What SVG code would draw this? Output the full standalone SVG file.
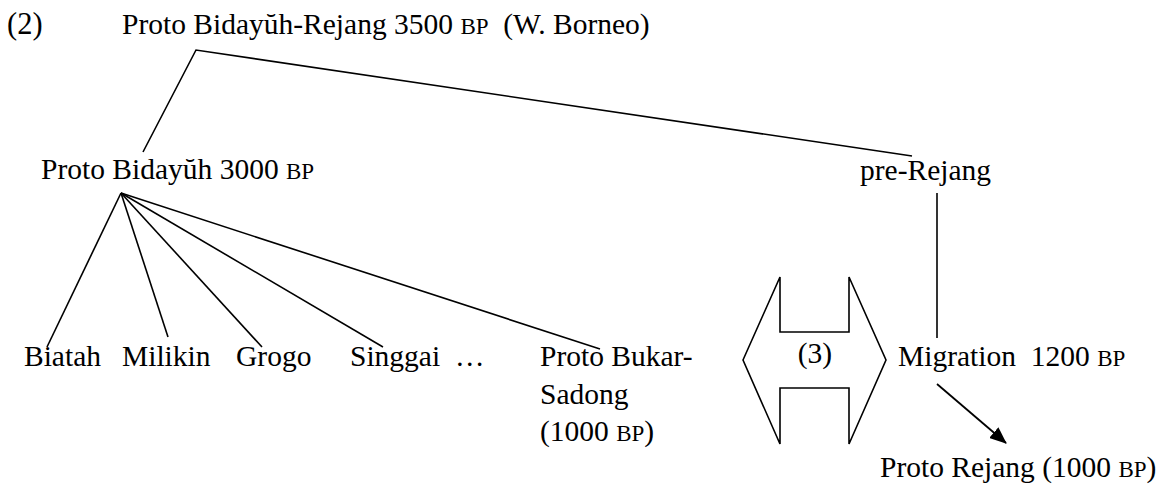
<svg xmlns="http://www.w3.org/2000/svg" width="1159" height="486" viewBox="0 0 1159 486">
<defs>
<style>
text{font-family:"Liberation Serif","Times New Roman",serif;font-size:29.5px;fill:#000}
.sc{font-size:23px}
.ln{stroke:#000;stroke-width:1.6;fill:none}
</style>
<marker id="ah" markerWidth="17" markerHeight="14" refX="16" refY="7" orient="auto" markerUnits="userSpaceOnUse" viewBox="0 0 17 14">
<path d="M0,0 L17,7 L0,14 Z" fill="#000"/>
</marker>
</defs>
<rect width="1159" height="486" fill="#fff"/>
<g id="connectors">
<polyline class="ln" points="143,152 196,50 912,156"/>
<line class="ln" x1="937" y1="193" x2="937" y2="338"/>
<line class="ln" x1="121" y1="193" x2="47" y2="347"/>
<line class="ln" x1="121" y1="193" x2="168" y2="337"/>
<line class="ln" x1="121" y1="193" x2="262" y2="347"/>
<line class="ln" x1="121" y1="193" x2="383" y2="347"/>
<line class="ln" x1="121" y1="193" x2="600" y2="349"/>
<line class="ln" x1="937" y1="384" x2="1006" y2="443" marker-end="url(#ah)" style="stroke-width:1.8"/>
</g>
<g id="label-2"><text x="7" y="34" style="font-size:30.5px">(2)</text></g>
<g id="root"><text x="122" y="34" xml:space="preserve">Proto Bidayŭh-Rejang 3500 <tspan class="sc">BP</tspan>  (W. Borneo)</text></g>
<g id="proto-bidayuh"><text x="41" y="179">Proto Bidayŭh 3000 <tspan class="sc">BP</tspan></text></g>
<g id="pre-rejang"><text x="860" y="180">pre-Rejang</text></g>
<g id="biatah"><text x="24" y="366">Biatah</text></g>
<g id="milikin"><text x="122" y="366">Milikin</text></g>
<g id="grogo"><text x="236" y="366">Grogo</text></g>
<g id="singgai"><text x="350" y="366">Singgai</text></g>
<g id="ellipsis"><text x="455" y="366">…</text></g>
<g id="proto-bukar-sadong">
<text x="540" y="366">Proto Bukar-</text>
<text x="540" y="404">Sadong</text>
<text x="540" y="441">(1000 <tspan class="sc">BP</tspan>)</text>
</g>
<g id="exchange">
<polygon class="ln" points="743,360 780,277 780,332 849,332 849,277 886,360 849,444 849,388 780,388 780,444"/>
<text x="815" y="363" text-anchor="middle">(3)</text>
</g>
<g id="migration"><text x="898" y="366" xml:space="preserve">Migration  1200 <tspan class="sc">BP</tspan></text></g>
<g id="proto-rejang"><text x="880" y="477">Proto Rejang (1000 <tspan class="sc">BP</tspan>)</text></g>
</svg>
